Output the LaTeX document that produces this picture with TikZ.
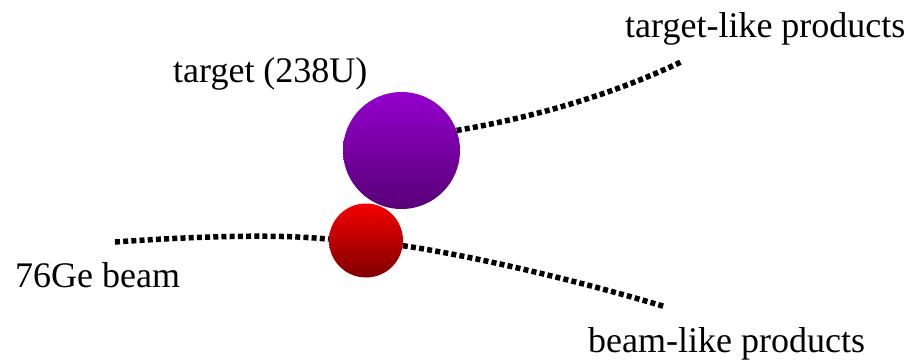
\documentclass[tikz,border=0pt]{standalone}
\usepackage{fontspec}
\setmainfont{Liberation Serif}
\begin{document}
\begin{tikzpicture}[x=1pt,y=-1pt,
  lbl/.style={inner sep=0pt, anchor=base west, font=\fontsize{36}{42}\selectfont},
  ball/.style={circle, inner sep=0pt, shading=axis, shading angle=0},
  dots/.style={line width=5.5pt, dash pattern=on 5pt off 3.2pt, line cap=butt, black}]
\useasboundingbox (0,0) rectangle (909,360);
\definecolor{ptop}{RGB}{148,0,205}
\definecolor{pbot}{RGB}{88,0,118}
\definecolor{rtop}{RGB}{245,0,0}
\definecolor{rbot}{RGB}{128,0,0}
\node[ball, minimum size=117pt, top color=ptop, bottom color=pbot] (target) at (401.5,150.5) {};
\node[ball, minimum size=74pt, top color=rtop, bottom color=rbot] (beam) at (366,240.5) {};
\coordinate (bstart) at (115,242);
\coordinate (tend) at (683,61);
\coordinate (bend) at (666,307);
\draw[dots] (bstart) .. controls (200,236) and (280,234) .. (beam.178);
\draw[dots] (target.20) .. controls (530,118) and (610,96) .. (tend);
\draw[dots] (beam.-8) .. controls (480,257) and (590,284) .. (bend);
\node[lbl] (tlabel) at (173,82) {target (238U)};
\node[lbl] (tlp) at (625,37) {target-like products};
\node[lbl] (blabel) at (15,287) {76Ge beam};
\node[lbl] (blp) at (588,352) {beam-like products};
\end{tikzpicture}
\end{document}
